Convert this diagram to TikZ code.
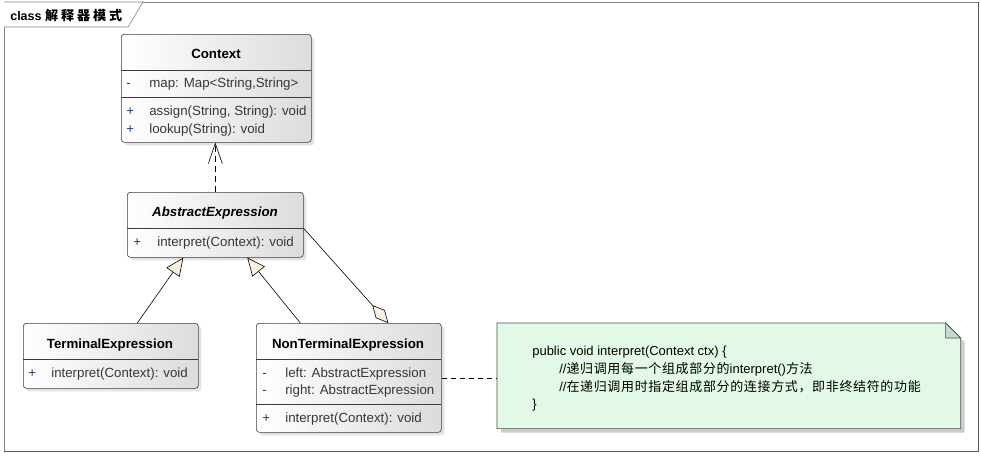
\documentclass[tikz,border=0pt]{standalone}
\usepackage{fontspec}
\setmainfont{Liberation Sans}
\newfontfamily\cjk{Noto Sans CJK SC}[LetterSpace=5]
\newfontfamily\cjktitle{Noto Sans CJK SC}[Scale=1.05, LetterSpace=22]
\usetikzlibrary{arrows.meta, shadows}

\definecolor{boxline}{RGB}{60,60,60}
\definecolor{boxshade}{RGB}{220,220,220}
\definecolor{cream}{RGB}{250,240,226}
\definecolor{notefill}{RGB}{227,249,232}
\definecolor{notefold}{RGB}{198,218,204}
\definecolor{noteline}{RGB}{70,80,72}
\definecolor{membertext}{RGB}{55,55,55}
\definecolor{vistext}{RGB}{30,60,110}
\definecolor{framegray}{RGB}{130,130,130}

\begin{document}
\begin{tikzpicture}[x=1pt, y=-1pt, line width=0.6pt]
    \tikzstyle{classbox} = [rectangle,rounded corners=3pt,draw=boxline,left color=white,right color=boxshade,inner sep=0pt,anchor=north west,drop shadow={shadow xshift=3pt,shadow yshift=-3pt,fill=black!22}]
    \tikzstyle{classname} = [anchor=base,inner sep=0pt,font=\fontsize{13.3}{16}\selectfont\bfseries]
    \tikzstyle{member} = [anchor=base west,inner sep=0pt,text=membertext,font=\fontsize{13.3}{16}\selectfont]
    \tikzstyle{vis} = [anchor=base west,inner sep=0pt,text=vistext,font=\fontsize{13.3}{16}\selectfont]
    \tikzstyle{noteline} = [anchor=base west,inner sep=0pt,font=\fontsize{13}{16}\selectfont]
    \tikzstyle{sep} = [draw=boxline]
    \tikzstyle{dependency} = [dash pattern=on 6pt off 4pt,-{Straight Barb[length=20pt,width=14pt]}]
    \tikzstyle{generalize} = [-{Triangle[length=18pt,width=16pt,fill=cream]}]
    \tikzstyle{aggregate} = [{Diamond[length=24pt,width=12pt,fill=cream]}-]
    \tikzstyle{notelink} = [dash pattern=on 5pt off 4pt]

    \useasboundingbox (0,0) rectangle (981,456);

    % frame
    \draw [framegray] (4,2) rectangle (978,451);
    \draw [black!65,line width=1pt] (978,2) -- (978,451) -- (4,451);
    \filldraw [fill=white,draw=framegray] (4,2) -- (143,2) -- (128,27) -- (4,27);
    \node (frametitle) [anchor=base west,inner sep=0pt,font=\fontsize{12.5}{14}\selectfont\bfseries] at (10,20) {class {\cjktitle 解释器模式}};

    % Context
    \node (ctx) [classbox,minimum width=190pt,minimum height=108pt] at (121,34) {};
    \draw [sep] (121,70) -- (311,70);
    \draw [sep] (121,97) -- (311,97);
    \node (ctxname) [classname] at (216,58) {Context};
    \node (ctxv1) [vis] at (126,87) {-};
    \node (ctxm1) [member] at (149,87) {map: Map<String,String>};
    \node (ctxv2) [vis] at (126,115) {+};
    \node (ctxm2) [member] at (149,115) {assign(String, String): void};
    \node (ctxv3) [vis] at (126,133) {+};
    \node (ctxm3) [member] at (149,133) {lookup(String): void};

    % AbstractExpression
    \node (abs) [classbox,minimum width=176pt,minimum height=65pt] at (127,192) {};
    \draw [sep] (127,228) -- (303,228);
    \node (absname) [classname,font=\fontsize{13.3}{16}\selectfont\bfseries\itshape] at (215,216) {AbstractExpression};
    \node (absv1) [vis] at (133,246) {+};
    \node (absm1) [member] at (157,246) {interpret(Context): void};

    % TerminalExpression
    \node (term) [classbox,minimum width=175pt,minimum height=65pt] at (23,323) {};
    \draw [sep] (23,359) -- (198,359);
    \node (termname) [classname] at (110,348) {TerminalExpression};
    \node (termv1) [vis] at (28,377) {+};
    \node (termm1) [member] at (51,377) {interpret(Context): void};

    % NonTerminalExpression
    \node (nonterm) [classbox,minimum width=185pt,minimum height=109pt] at (256,323) {};
    \draw [sep] (256,359) -- (441,359);
    \draw [sep] (256,404) -- (441,404);
    \node (nontermname) [classname] at (348,348) {NonTerminalExpression};
    \node (nontermv1) [vis] at (262,377) {-};
    \node (nontermm1) [member] at (285,377) {left: AbstractExpression};
    \node (nontermv2) [vis] at (262,394) {-};
    \node (nontermm2) [member] at (285,394) {right: AbstractExpression};
    \node (nontermv3) [vis] at (262,422) {+};
    \node (nontermm3) [member] at (285,422) {interpret(Context): void};

    % note
    \node (note) [inner sep=0pt,minimum width=463pt,minimum height=105pt,anchor=north west] at (497,323) {};
    \fill [black!20] ([xshift=4pt,yshift=-4pt]note.south west) -- ([xshift=4pt,yshift=-4pt]note.north west) -- ([xshift=-11pt,yshift=-4pt]note.north east) -- ([xshift=4pt,yshift=-19pt]note.north east) -- ([xshift=4pt,yshift=-4pt]note.south east) -- cycle;
    \filldraw [fill=notefill,draw=noteline] (note.south west) -- (note.north west) -- ([xshift=-15pt]note.north east) -- ([yshift=-15pt]note.north east) -- (note.south east) -- cycle;
    \filldraw [fill=notefold,draw=noteline] ([xshift=-15pt]note.north east) -- ([xshift=-15pt,yshift=-15pt]note.north east) -- ([yshift=-15pt]note.north east) -- cycle;
    \node (note1) [noteline] at (532,355) {public void interpret(Context ctx) \{};
    \node (note2) [noteline] at (559,373) {//{\cjk 递归调用每一个组成部分的}interpret(){\cjk 方法}};
    \node (note3) [noteline] at (559,391) {//{\cjk 在递归调用时指定组成部分的连接方式，即非终结符的功能}};
    \node (note4) [noteline] at (532,408) {\}};

    % connectors
    \draw [dependency] (abs.north) -- (abs.north |- ctx.south);
    \draw [generalize] ([xshift=26.5pt]term.north) -- ([xshift=-32pt]abs.south);
    \draw [generalize] ([xshift=-48.5pt]nonterm.north) -- ([xshift=32pt]abs.south);
    \draw [aggregate] ([xshift=39.5pt]nonterm.north) -- ([yshift=-3.5pt]abs.east);
    \draw [notelink] (nonterm.east) -- (nonterm.east -| note.west);
\end{tikzpicture}
\end{document}
